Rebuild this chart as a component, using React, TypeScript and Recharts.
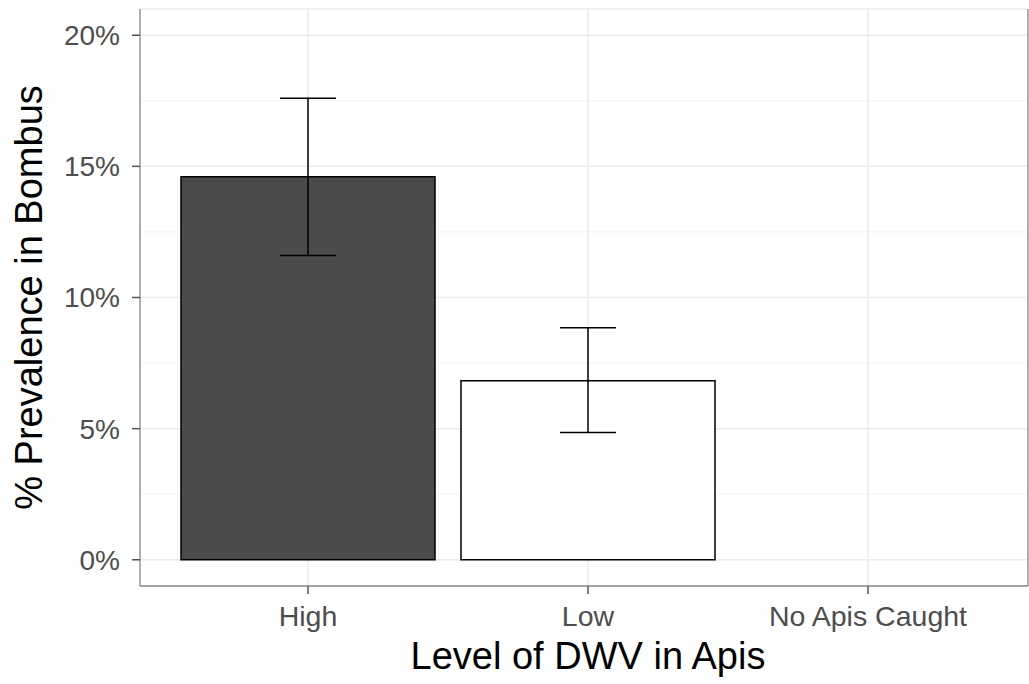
import {
  BarChart,
  Bar,
  Cell,
  XAxis,
  YAxis,
  CartesianGrid,
  ErrorBar,
  Label,
} from "recharts";

const categories = ["High", "Low", "No Apis Caught"];
const prevalence: (number | null)[] = [14.6, 6.83, null];
const lowerCI: (number | null)[] = [11.6, 4.85, null];
const upperCI: (number | null)[] = [17.6, 8.85, null];
const barFills = ["#4b4b4b", "#ffffff", "#ffffff"];
const yTicks = [0, 5, 10, 15, 20];
const minorTicks = [2.5, 7.5, 12.5, 17.5];

const data = categories.map((name, i) => ({
  name,
  value: prevalence[i],
  err:
    prevalence[i] === null
      ? undefined
      : [
          (prevalence[i] as number) - (lowerCI[i] as number),
          (upperCI[i] as number) - (prevalence[i] as number),
        ],
}));

const FONT = "'Liberation Sans', Arial, Helvetica, sans-serif";
const BORDER = "#8c8c8c";

export default function App() {
  return (
    <div style={{ position: "absolute", left: 0, top: 0, background: "#fff" }}>
      <BarChart
        width={1029}
        height={684}
        data={data}
        margin={{ top: 9, right: 0, bottom: 0, left: 0 }}
        barCategoryGap={13}
      >
        <CartesianGrid
          horizontalValues={minorTicks}
          vertical={false}
          stroke="#f2f2f2"
          strokeWidth={1}
        />
        <CartesianGrid stroke="#ebebeb" strokeWidth={1.5} />
        <XAxis
          dataKey="name"
          height={98}
          padding={{ left: 28, right: 20 }}
          axisLine={{ stroke: BORDER, strokeWidth: 1.3 }}
          tickSize={8}
          tickMargin={12}
          tickLine={{ stroke: "#555", strokeWidth: 1.5 }}
          tick={{ fontSize: 28.5, fill: "#4d4d4d", fontFamily: FONT }}
        >
          <Label
            content={({ viewBox }: any) => (
              <text
                x={viewBox.x + viewBox.width / 2 + 4}
                y={669}
                textAnchor="middle"
                fontSize={38}
                fill="#000"
                fontFamily={FONT}
              >
                Level of DWV in Apis
              </text>
            )}
          />
        </XAxis>
        {/* top edge of the panel border */}
        <XAxis
          xAxisId="top"
          orientation="top"
          dataKey="name"
          height={0}
          padding={{ left: 28, right: 20 }}
          axisLine={{ stroke: BORDER, strokeWidth: 1.3 }}
          tick={false}
          tickLine={false}
        />
        <YAxis
          width={140}
          domain={[-1, 21]}
          ticks={yTicks}
          allowDataOverflow
          axisLine={{ stroke: BORDER, strokeWidth: 1.3 }}
          tickSize={8}
          tickMargin={12}
          tickLine={{ stroke: "#555", strokeWidth: 1.5 }}
          tickFormatter={(v) => `${v}%`}
          tick={{ fontSize: 28, fill: "#4d4d4d", fontFamily: FONT }}
        >
          <Label
            content={({ viewBox }: any) => {
              const cx = 42;
              const cy = viewBox.y + viewBox.height / 2;
              return (
                <text
                  x={cx}
                  y={cy}
                  transform={`rotate(-90 ${cx} ${cy})`}
                  textAnchor="middle"
                  fontSize={38}
                  fill="#000"
                  fontFamily={FONT}
                >
                  % Prevalence in Bombus
                </text>
              );
            }}
          />
        </YAxis>
        {/* right edge of the panel border */}
        <YAxis
          yAxisId="right"
          orientation="right"
          width={1}
          domain={[-1, 21]}
          axisLine={{ stroke: BORDER, strokeWidth: 1.3 }}
          tick={false}
          tickLine={false}
        />
        <Bar
          dataKey="value"
          stroke="#000"
          strokeWidth={1.5}
          isAnimationActive={false}
        >
          {data.map((d, i) => (
            <Cell key={d.name} fill={barFills[i]} />
          ))}
          <ErrorBar
            dataKey="err"
            width={28}
            stroke="#000"
            strokeWidth={1.5}
            direction="y"
          />
        </Bar>
      </BarChart>
    </div>
  );
}
